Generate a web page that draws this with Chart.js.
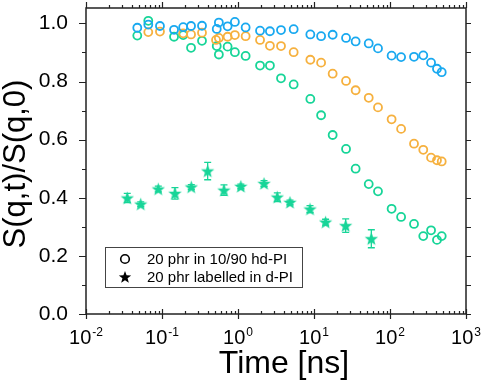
<!DOCTYPE html>
<html>
<head>
<meta charset="utf-8">
<script src="https://cdn.jsdelivr.net/npm/chart.js@4.4.0/dist/chart.umd.min.js"></script>
<style>
  html, body { margin: 0; padding: 0; background: #fff; }
  #wrap { width: 484px; height: 382px; }
</style>
</head>
<body>
<div id="wrap"><canvas id="sqtChart"></canvas></div>
<script>
// ── Data ────────────────────────────────────────────────────────────────────
const BLUE_T = [0.0473,0.066,0.094,0.144,0.19,0.241,0.336,0.525,0.56,0.73,0.91,1.26,1.95,2.63,3.68,5.4,8.95,12.4,17.6,26.4,35.3,52.5,69.5,105,140,207,274,347,415,479];
const BLUE_S = [0.985,0.996,0.991,0.978,0.987,0.991,0.992,0.981,1.003,0.99,1.005,0.986,0.975,0.973,0.977,0.98,0.962,0.956,0.961,0.95,0.938,0.931,0.914,0.889,0.884,0.885,0.89,0.865,0.844,0.832];

const ORANGE_T = [0.066,0.094,0.19,0.241,0.336,0.514,0.56,0.73,0.91,1.26,1.95,2.63,3.68,5.4,8.95,12.4,17.6,26.4,35.3,52.5,69.5,105,140,207,274,347,415,479];
const ORANGE_S = [0.970,0.972,0.966,0.962,0.968,0.943,0.95,0.954,0.96,0.956,0.943,0.923,0.922,0.901,0.875,0.865,0.827,0.802,0.770,0.744,0.711,0.670,0.637,0.586,0.565,0.538,0.529,0.525];

const GREEN_T = [0.0473,0.066,0.144,0.19,0.241,0.336,0.525,0.56,0.73,0.91,1.26,1.95,2.63,3.68,5.4,8.95,12.4,17.6,26.4,35.3,52.5,69.5,105,140,207,274,347,415,479];
const GREEN_S = [0.958,1.009,0.954,0.96,0.916,0.940,0.922,0.893,0.92,0.901,0.888,0.855,0.855,0.811,0.790,0.740,0.684,0.616,0.568,0.500,0.447,0.422,0.362,0.334,0.310,0.268,0.288,0.255,0.268];

const STAR_T   = [0.0349,0.0525,0.0894,0.148,0.243,0.399,0.654,1.09,2.2,3.29,4.83,8.86,14.2,26.1,56.8];
const STAR_S   = [0.399,0.378,0.43,0.415,0.437,0.492,0.426,0.439,0.449,0.402,0.384,0.361,0.316,0.304,0.259];
const STAR_ERR = [0.016,0.008,0.01,0.02,0.008,0.03,0.018,0.008,0.01,0.015,0.008,0.012,0.01,0.023,0.031];

const X_DECADES = [-2, -1, 0, 1, 2, 3];
const Y_TICKS   = [0, 0.1, 0.2, 0.3, 0.4, 0.5, 0.6, 0.7, 0.8, 0.9, 1.0];
const LEGEND_LABELS = ['20 phr in 10/90 hd-PI', '20 phr labelled in d-PI'];

const C_BLUE = '#19a9f0';
const C_ORANGE = '#f6b13f';
const C_GREEN = '#17d598';
const FONT = '"Liberation Sans", Arial, sans-serif';

const pts = (xs, ys) => xs.map((x, i) => ({ x, y: ys[i] }));

// ── Filled star marker ──────────────────────────────────────────────────────
function starPath(ctx, cx, cy, ro, ri) {
  ctx.beginPath();
  for (let k = 0; k < 10; k++) {
    const r = k % 2 ? ri : ro;
    const a = -Math.PI / 2 + k * Math.PI / 5;
    const px = cx + r * Math.cos(a), py = cy + r * Math.sin(a);
    k ? ctx.lineTo(px, py) : ctx.moveTo(px, py);
  }
  ctx.closePath();
}
function starImage(color) {
  const c = document.createElement('canvas');
  c.width = 15; c.height = 15;
  const g = c.getContext('2d');
  g.fillStyle = color;
  starPath(g, 7.5, 8, 7, 2.9);
  g.fill();
  return c;
}

// ── Frame, ticks, labels, titles, legend, error bars ───────────────────────
const decor = {
  id: 'decor',
  beforeDatasetsDraw(chart) {
    const { ctx, scales: { x, y } } = chart;
    ctx.save();
    ctx.strokeStyle = C_GREEN;
    ctx.lineWidth = 1.3;
    STAR_T.forEach((t, i) => {
      const px = x.getPixelForValue(t);
      const top = y.getPixelForValue(STAR_S[i] + STAR_ERR[i]);
      const bot = y.getPixelForValue(STAR_S[i] - STAR_ERR[i]);
      ctx.beginPath();
      ctx.moveTo(px, top); ctx.lineTo(px, bot);
      ctx.moveTo(px - 3.5, top); ctx.lineTo(px + 3.5, top);
      ctx.moveTo(px - 3.5, bot); ctx.lineTo(px + 3.5, bot);
      ctx.stroke();
    });
    ctx.restore();
  },
  afterDraw(chart) {
    const { ctx, chartArea: a, scales: { x, y } } = chart;
    ctx.save();
    ctx.strokeStyle = '#222';
    ctx.lineWidth = 1.5;
    ctx.strokeRect(a.left, a.top, a.right - a.left, a.bottom - a.top);

    ctx.lineWidth = 1.2;
    ctx.beginPath();
    // y ticks: left outward (major longer), right outward
    Y_TICKS.forEach((v, i) => {
      const py = Math.round(y.getPixelForValue(v)) + 0.5;
      const len = i % 2 ? 4 : 7;
      ctx.moveTo(a.left - len, py); ctx.lineTo(a.left, py);
      ctx.moveTo(a.right, py); ctx.lineTo(a.right + 5, py);
    });
    // x ticks: decades cross bottom, minors inward; top outward
    X_DECADES.forEach(n => {
      for (let m = 1; m <= 9; m++) {
        const v = m * Math.pow(10, n);
        if (v > 1000) break;
        const px = Math.round(x.getPixelForValue(v)) + 0.5;
        if (m === 1) {
          ctx.moveTo(px, a.bottom - 5); ctx.lineTo(px, a.bottom + 5);
          ctx.moveTo(px, a.top); ctx.lineTo(px, a.top - 6);
        } else {
          ctx.moveTo(px, a.bottom); ctx.lineTo(px, a.bottom - 3);
          ctx.moveTo(px, a.top); ctx.lineTo(px, a.top - 3);
        }
      }
    });
    ctx.stroke();

    // x tick labels 10^n
    ctx.fillStyle = '#000';
    ctx.textBaseline = 'alphabetic';
    ctx.textAlign = 'left';
    X_DECADES.forEach(n => {
      const px = x.getPixelForValue(Math.pow(10, n));
      ctx.font = '20px ' + FONT;
      const wb = ctx.measureText('10').width;
      ctx.font = '12px ' + FONT;
      const sup = String(n);
      const ws = ctx.measureText(sup).width;
      const x0 = px - (wb + ws + 1) / 2;
      ctx.font = '20px ' + FONT;
      ctx.fillText('10', x0, 344);
      ctx.font = '12px ' + FONT;
      ctx.fillText(sup, x0 + wb + 1, 336);
    });

    // axis titles
    ctx.font = '32px ' + FONT;
    ctx.textAlign = 'center';
    ctx.fillText('Time [ns]', 284, 373);
    ctx.save();
    ctx.translate(25, 164);
    ctx.rotate(-Math.PI / 2);
    ctx.font = '31px ' + FONT;
    ctx.fillText('S(q,t)/S(q,0)', 0, 0);
    ctx.restore();

    // legend
    ctx.lineWidth = 1;
    ctx.strokeStyle = '#444';
    ctx.strokeRect(105.5, 247.5, 197, 40);
    ctx.strokeStyle = '#000';
    ctx.lineWidth = 1.6;
    ctx.beginPath();
    ctx.arc(125, 259, 4.3, 0, Math.PI * 2);
    ctx.stroke();
    ctx.fillStyle = '#000';
    starPath(ctx, 125, 277.5, 6.5, 2.7);
    ctx.fill();
    ctx.font = '15px ' + FONT;
    ctx.textAlign = 'left';
    ctx.textBaseline = 'middle';
    ctx.fillText(LEGEND_LABELS[0], 147, 259.5);
    ctx.fillText(LEGEND_LABELS[1], 147, 277.5);
    ctx.restore();
  }
};

const circleSet = (data, color) => ({
  data,
  pointStyle: 'circle',
  pointRadius: 4,
  pointBorderWidth: 1.8,
  pointBorderColor: color,
  pointBackgroundColor: 'rgba(0,0,0,0)',
  showLine: false
});

new Chart(document.getElementById('sqtChart'), {
  type: 'scatter',
  data: {
    datasets: [
      circleSet(pts(BLUE_T, BLUE_S), C_BLUE),
      circleSet(pts(ORANGE_T, ORANGE_S), C_ORANGE),
      circleSet(pts(GREEN_T, GREEN_S), C_GREEN),
      {
        data: pts(STAR_T, STAR_S),
        pointStyle: starImage(C_GREEN),
        pointRadius: 7,
        showLine: false
      }
    ]
  },
  options: {
    responsive: true,
    maintainAspectRatio: false,
    animation: false,
    devicePixelRatio: 1,
    layout: { padding: { top: 6, right: 18, left: 0, bottom: 0 } },
    plugins: { legend: { display: false }, tooltip: { enabled: false } },
    scales: {
      x: {
        type: 'logarithmic',
        min: 0.01,
        max: 1000,
        grid: { display: false },
        border: { display: false },
        ticks: { display: false },
        afterFit: s => { s.height = 68; s.paddingLeft = 0; s.paddingRight = 0; }
      },
      y: {
        type: 'linear',
        min: 0,
        max: 1.053,
        grid: { display: false },
        border: { display: false },
        ticks: {
          stepSize: 0.2,
          includeBounds: false,
          padding: 10,
          color: '#000',
          font: { size: 21, family: FONT },
          callback: v => Math.abs(v * 5 - Math.round(v * 5)) < 1e-6 ? v.toFixed(1) : ''
        },
        afterFit: s => { s.width = 86; s.paddingTop = 0; s.paddingBottom = 0; }
      }
    }
  },
  plugins: [decor]
});
</script>
</body>
</html>
